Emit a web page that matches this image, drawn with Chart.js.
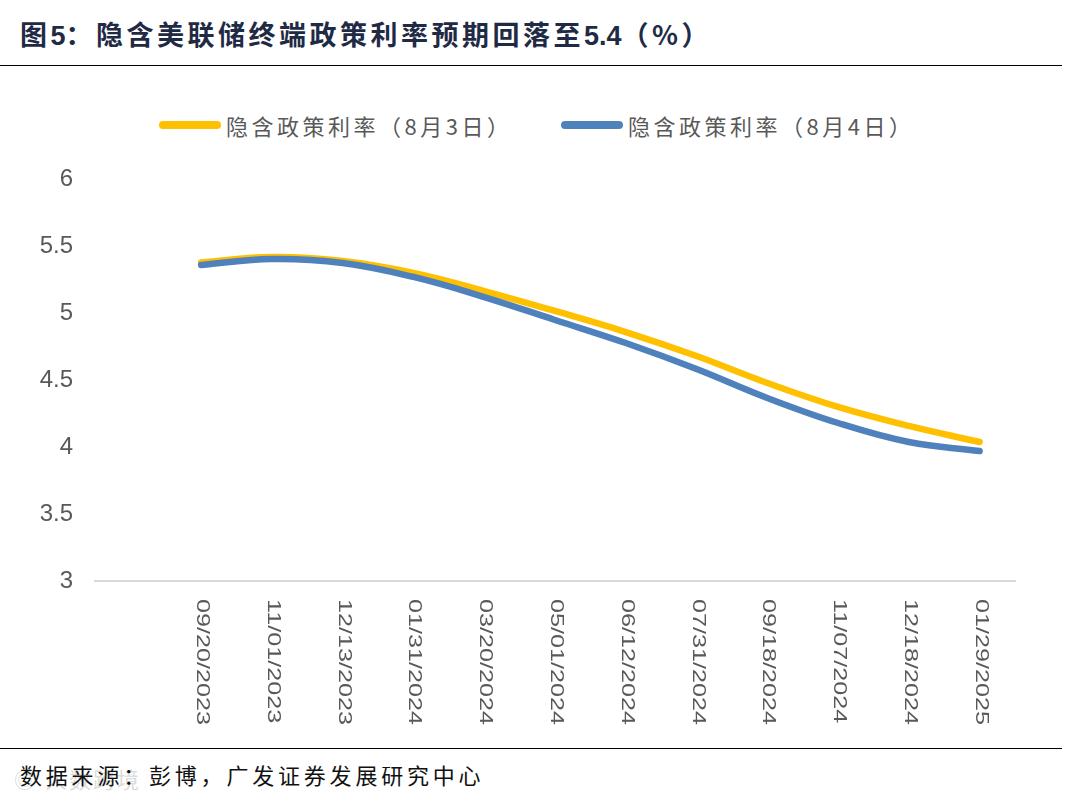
<!DOCTYPE html>
<html>
<head>
<meta charset="utf-8">
<script src="https://cdn.jsdelivr.net/npm/chart.js@4.4.1/dist/chart.umd.min.js"></script>
<style>
  body { margin: 0; background: #fff; width: 1077px; height: 802px; position: relative; overflow: hidden; }
  .title { position: absolute; left: 20px; top: 14px; font: bold 27px "Noto Sans CJK SC", sans-serif; letter-spacing: 3.5px; color: #1f2b45; white-space: nowrap; }
  .title .num { font-family: "Liberation Sans", Arial, sans-serif; letter-spacing: 0; }
  .rule { position: absolute; left: 0; width: 1062px; height: 0; border-top: 1.5px solid #000; }
  .legend-item { position: absolute; top: 108px; height: 34px; display: flex; align-items: center; }
  .legend-item .swatch { width: 62px; height: 8px; border-radius: 4px; margin-right: 5px; }
  .legend-item span { font: 22px "Noto Sans CJK SC", sans-serif; letter-spacing: 3.5px; color: #595959; white-space: nowrap; }
  .source { position: absolute; left: 20px; top: 758px; font: 22px "Noto Sans CJK SC", serif; letter-spacing: 3.8px; color: #111; white-space: nowrap; }
  .mark { position: absolute; left: 14px; top: 762px; font: 22px "Noto Sans CJK SC", sans-serif; color: rgba(190,190,190,0.55); letter-spacing: 2px; }
  #wrap { position: absolute; left: 0; top: 80px; width: 1077px; height: 665px; }
</style>
</head>
<body>
<div class="title">图<span class="num">5</span>：隐含美联储终端政策利率预期回落至<span class="num">5.4</span>（%）</div>
<div class="rule" style="top:65px"></div>

<div class="legend-item" style="left:159px"><div class="swatch" style="background:#FFC000"></div><span>隐含政策利率（8月3日）</span></div>
<div class="legend-item" style="left:561px"><div class="swatch" style="background:#4F81BD"></div><span>隐含政策利率（8月4日）</span></div>

<div id="wrap"><canvas id="chart"></canvas></div>

<div class="rule" style="top:748px"></div>
<div class="mark">◎ 人数跨境</div>
<div class="source">数据来源：彭博，广发证券发展研究中心</div>

<script>
// first category is an empty slot, as in the original sheet
const dates = ["", "09/20/2023", "11/01/2023", "12/13/2023", "01/31/2024", "03/20/2024", "05/01/2024",
  "06/12/2024", "07/31/2024", "09/18/2024", "11/07/2024", "12/18/2024", "01/29/2025"];
const rateAug3 = [null, 5.377, 5.418, 5.388, 5.299, 5.164, 5.015, 4.858, 4.679, 4.478, 4.299, 4.157, 4.037];
const rateAug4 = [null, 5.358, 5.403, 5.373, 5.269, 5.119, 4.948, 4.776, 4.582, 4.366, 4.179, 4.037, 3.970];
const names = ["隐含政策利率（8月3日）", "隐含政策利率（8月4日）"];

// x labels read top to bottom, so draw them ourselves at the scale's tick positions
const dateLabels = {
  id: "dateLabels",
  afterDraw(chart) {
    const ctx = chart.ctx;
    const xs = chart.scales.x;
    const top = chart.chartArea.bottom + 18;
    ctx.save();
    ctx.fillStyle = "#595959";
    ctx.font = "18px 'Liberation Sans', Arial, sans-serif";
    ctx.textAlign = "left";
    ctx.textBaseline = "middle";
    dates.forEach((d, i) => {
      if (!d) return;
      const x = xs.getPixelForValue(i);
      ctx.save();
      ctx.translate(x + 1, top);
      ctx.rotate(Math.PI / 2);
      ctx.scale(1.4, 1);
      ctx.fillText(d, 0, 0);
      ctx.restore();
    });
    ctx.restore();
  }
};

new Chart(document.getElementById("chart"), {
  type: "line",
  data: {
    labels: dates,
    datasets: [{
      label: names[0],
      data: rateAug3,
      borderColor: "#FFC000",
      borderWidth: 6.5,
      borderCapStyle: "round",
      pointRadius: 0,
      tension: 0.4,
      order: 1
    }, {
      label: names[1],
      data: rateAug4,
      borderColor: "#4F81BD",
      borderWidth: 6.5,
      borderCapStyle: "round",
      pointRadius: 0,
      tension: 0.4,
      order: 0
    }]
  },
  options: {
    responsive: true,
    maintainAspectRatio: false,
    animation: false,
    layout: { padding: { left: 0, right: 62, top: 99, bottom: 0 } },
    plugins: { legend: { display: false }, tooltip: { enabled: false } },
    scales: {
      x: {
        offset: true,
        grid: { display: false, drawTicks: false },
        border: { color: "#D9D9D9", width: 2 },
        ticks: { display: false },
        afterFit: s => { s.height = 164; }
      },
      y: {
        min: 3,
        max: 6,
        grid: { display: false, drawTicks: false },
        border: { display: false },
        ticks: {
          stepSize: 0.5,
          padding: 22,
          color: "#595959",
          font: { family: "'Liberation Sans', Arial, sans-serif", size: 24 },
          callback: v => String(v)
        },
        afterFit: s => { s.width = 95; }
      }
    }
  },
  plugins: [dateLabels]
});
</script>
</body>
</html>
